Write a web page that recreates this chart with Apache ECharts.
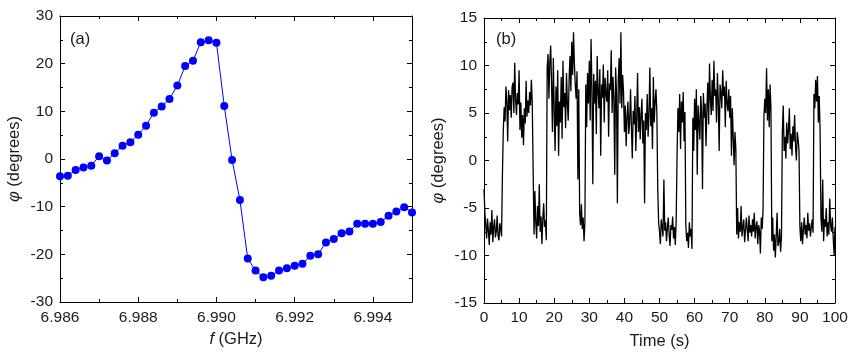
<!DOCTYPE html>
<html>
<head>
<meta charset="utf-8">
<script src="https://cdn.jsdelivr.net/npm/echarts@6/dist/echarts.min.js"></script>
<style>
  html, body { margin: 0; padding: 0; background: #fff; }
  #main { width: 859px; height: 357px; }
</style>
</head>
<body>
<div id="main"></div>
<script>
// panel (a): phase vs frequency
var freqGHz = [6.9860, 6.9862, 6.9864, 6.9866, 6.9868, 6.9870, 6.9872, 6.9874, 6.9876, 6.9878,
  6.9880, 6.9882, 6.9884, 6.9886, 6.9888, 6.9890, 6.9892, 6.9894, 6.9896, 6.9898,
  6.9900, 6.9902, 6.9904, 6.9906, 6.9908, 6.9910, 6.9912, 6.9914, 6.9916, 6.9918,
  6.9920, 6.9922, 6.9924, 6.9926, 6.9928, 6.9930, 6.9932, 6.9934, 6.9936, 6.9938,
  6.9940, 6.9942, 6.9944, 6.9946, 6.9948, 6.9950];
var phaseA = [-3.6, -3.5, -2.3, -1.8, -1.4, 0.6, -0.3, 1.2, 2.8, 3.5,
  5.1, 7.0, 9.7, 11.0, 12.6, 15.4, 19.5, 20.6, 24.5, 24.9,
  24.4, 11.1, -0.2, -8.6, -20.9, -23.4, -24.8, -24.5, -23.4, -22.9,
  -22.4, -22.0, -20.3, -20.0, -17.5, -16.8, -15.6, -15.2, -13.6, -13.6,
  -13.6, -13.2, -11.9, -11.0, -10.1, -11.2];

// panel (b): phase vs time, one sample every 0.25 s
var timeStep = 0.25;
var phaseB = [
  -3.0, -5.5, -6.8, -8.2, -6.1, -7.4, -8.9, -6.5, -7.8, -5.2, -8.6, -7.0, -6.2, -8.1, -7.5, -5.8, -7.9, -8.4, -6.6, -7.2,
  -8.0, -1.5, 3.2, 5.6, 4.1, 7.8, 6.2, 2.0, 7.4, 5.3, 6.9, 4.5, 7.7, 8.2, 5.0, 10.3, 6.4, 4.8, 7.1, 5.9,
  9.5, 3.2, 6.1, 2.4, 4.8, 1.6, 5.5, 3.9, 8.4, 4.6, 6.3, 5.0, 7.2, 5.8, 8.5, 6.0, -1.0, -7.8, -3.2, -6.5,
  -8.2, -4.8, -6.9, -2.5, -7.5, -5.9, -8.8, -6.2, -4.5, -7.0, -6.3, -8.4, 9.8, 11.2, 6.5, 10.4, 12.1, 8.0, 3.0, 10.8,
  5.2, 1.0, 7.8, 3.6, 9.5, 0.5, 6.2, 4.0, 8.8, 2.3, 10.5, 5.6, 7.1, 3.4, 9.2, 6.0, 4.2, 8.5, 11.0, 7.3,
  12.5, 9.0, 13.5, 10.2, 8.0, 6.5, 9.4, -2.0, 7.5, -5.5, -6.8, -4.6, -7.2, -6.0, -8.5, -6.5, 8.0, 3.5, 9.2, 6.0,
  10.5, 4.2, 12.8, 7.6, -2.5, 9.1, 6.0, 8.4, 2.8, 11.0, 7.2, 5.5, 9.6, 0.5, 8.0, 6.6, 10.1, 4.0, 8.7, 7.0,
  6.2, 9.5, 2.5, 8.1, 7.4, 11.6, 5.0, 8.8, 6.5, -1.5, 9.8, 7.1, -4.5, 8.3, 10.8, 6.0, 13.5, 5.5, 9.0, 7.2,
  3.0, 5.8, 1.5, 4.6, 6.2, 2.8, 4.1, 7.5, 3.4, 0.2, 5.2, 3.8, 6.8, 1.0, 4.5, 9.2, 3.0, 5.6, 2.2, 4.9,
  6.5, 1.8, 4.2, -4.5, 5.0, 3.2, 7.0, 2.5, 4.8, 9.8, 3.6, 5.5, 1.2, 8.8, 4.0, 6.2, 7.5, 5.0, -3.0, -6.5,
  -7.5, -8.8, -6.2, -7.0, -8.0, -2.0, -7.4, -6.5, -8.5, -7.1, -6.0, -7.8, -9.0, -6.8, -7.3, -5.9, -8.2, -7.0, -8.9, -6.4,
  0.5, 5.5, 3.0, 7.0, 1.2, 6.2, 4.0, 7.2, 2.0, 5.1, -6.8, -8.5, -7.6, -9.2, -6.5, -8.0, -7.2, -9.3, 4.5, 1.0,
  6.5, 3.2, 7.5, -1.5, 5.8, 4.0, 2.2, 6.8, 5.2, -3.0, 7.1, 4.5, 6.0, 1.5, 5.5, 8.2, 3.8, 10.2, 6.5, 4.8,
  8.5, 5.2, 10.5, 6.8, 7.5, 4.0, 9.2, 6.2, 1.0, 8.0, 7.1, 5.5, 9.5, 6.8, 7.8, 3.5, 8.4, 6.0, 5.2, 7.5,
  4.5, 6.8, 0.5, 5.5, 2.5, -0.5, 3.0, 1.2, -7.8, -5.0, -8.2, -6.5, -7.5, -4.8, -8.0, -7.0, -6.2, -8.6, -7.4, -6.0,
  -7.2, -8.5, -5.8, -7.6, -6.8, -8.0, -6.2, -7.5, -5.5, -8.2, -7.0, -6.4, -8.8, -6.8, -7.4, -9.8, -6.0, -7.2, -5.2, 4.5,
  6.5, 5.0, 9.7, 4.2, 7.5, 3.5, 8.0, 5.5, -8.5, -6.0, -9.5, -7.8, -10.2, -8.0, -5.5, -9.0, -8.6, -7.2, -9.6, -8.0,
  3.0, 5.8, 1.0, 2.5, 0.2, 4.0, 1.8, 3.2, 5.5, 1.2, 2.8, 0.5, 3.6, 2.0, 4.8, 1.5, 0.0, 3.0, 2.2, 1.0,
  -7.0, -8.5, -6.5, -8.8, -7.2, -6.0, -7.8, -6.8, -8.2, -5.5, -7.4, -6.6, -8.0, -7.0, -6.2, -7.6, 7.0, 5.5, 8.5, 6.2,
  8.9, 4.0, 6.8, 3.2, -6.0, -7.5, -2.0, -8.5, -6.2, -7.0, -5.0, -8.0, -6.5, -7.8, -4.0, -6.8, -7.5, -6.0, -8.2, -10.0, -7.0
];

var FONT = '"Liberation Sans", Arial, sans-serif';
var TXT = '#1a1a1a';

var seriesA = freqGHz.map(function (f, i) { return [f, phaseA[i]]; });
var seriesB = phaseB.map(function (v, i) { return [i * timeStep, v]; });

// helper for axis common look (ticks pointing inward, box frame)
function axisBase(extra) {
  var a = {
    axisLine: { show: true, onZero: false, lineStyle: { color: '#000', width: 1 } },
    axisTick: { show: true, inside: true, length: 5, lineStyle: { color: '#000' } },
    minorTick: { show: true, splitNumber: 2, length: 3, lineStyle: { color: '#000' } },
    splitLine: { show: false },
    axisLabel: { color: TXT, fontFamily: FONT, fontSize: 15.5, margin: 7 },
    nameTextStyle: { color: TXT, fontFamily: FONT, fontSize: 16.5 }
  };
  for (var k in extra) a[k] = extra[k];
  return a;
}

var phiName = '{i|φ} (degrees)';
var phiRich = { i: { fontStyle: 'italic', fontFamily: FONT, fontSize: 16.5, color: TXT } };

var chart = echarts.init(document.getElementById('main'));
var option = {
  animation: false,
  grid: [
    { left: 60, top: 16, width: 352, height: 286 },
    { left: 484, top: 18, width: 351, height: 285 }
  ],
  xAxis: [
    axisBase({
      type: 'value', gridIndex: 0, position: 'bottom', min: 6.986, max: 6.995, interval: 0.002,
      name: '{i|f} (GHz)', nameLocation: 'middle', nameGap: 29,
      nameTextStyle: { color: TXT, fontFamily: FONT, fontSize: 16.5, rich: phiRich },
      axisLabel: { color: TXT, fontFamily: FONT, fontSize: 15.5, margin: 8, showMaxLabel: false,
        formatter: function (v) { return v.toFixed(3); } }
    }),
    axisBase({
      type: 'value', gridIndex: 0, position: 'top', min: 6.986, max: 6.995, interval: 0.002,
      axisLabel: { show: false }
    }),
    axisBase({
      type: 'value', gridIndex: 1, position: 'bottom', min: 0, max: 100, interval: 10,
      name: 'Time (s)', nameLocation: 'middle', nameGap: 30
    }),
    axisBase({
      type: 'value', gridIndex: 1, position: 'top', min: 0, max: 100, interval: 10,
      axisLabel: { show: false }
    })
  ],
  yAxis: [
    axisBase({
      type: 'value', gridIndex: 0, position: 'left', min: -30, max: 30, interval: 10,
      name: phiName, nameLocation: 'middle', nameGap: 37,
      nameTextStyle: { color: TXT, fontFamily: FONT, fontSize: 16.5, rich: phiRich }
    }),
    axisBase({
      type: 'value', gridIndex: 0, position: 'right', min: -30, max: 30, interval: 10,
      axisLabel: { show: false }
    }),
    axisBase({
      type: 'value', gridIndex: 1, position: 'left', min: -15, max: 15, interval: 5,
      name: phiName, nameLocation: 'middle', nameGap: 37,
      nameTextStyle: { color: TXT, fontFamily: FONT, fontSize: 16.5, rich: phiRich }
    }),
    axisBase({
      type: 'value', gridIndex: 1, position: 'right', min: -15, max: 15, interval: 5,
      axisLabel: { show: false }
    })
  ],
  graphic: [
    { type: 'text', left: 70, top: 31, style: { text: '(a)', fontFamily: FONT, fontSize: 16.5, fill: TXT } },
    { type: 'text', left: 496, top: 31, style: { text: '(b)', fontFamily: FONT, fontSize: 16.5, fill: TXT } }
  ],
  series: [
    {
      type: 'line', xAxisIndex: 0, yAxisIndex: 0, data: seriesA,
      symbol: 'circle', symbolSize: 8, showSymbol: true,
      lineStyle: { color: '#0000ff', width: 1 },
      itemStyle: { color: '#0000ff' }
    },
    {
      type: 'line', xAxisIndex: 2, yAxisIndex: 2, data: seriesB,
      symbol: 'none', clip: true,
      lineStyle: { color: '#000', width: 1.3 }
    }
  ]
};
chart.setOption(option);
</script>
</body>
</html>
